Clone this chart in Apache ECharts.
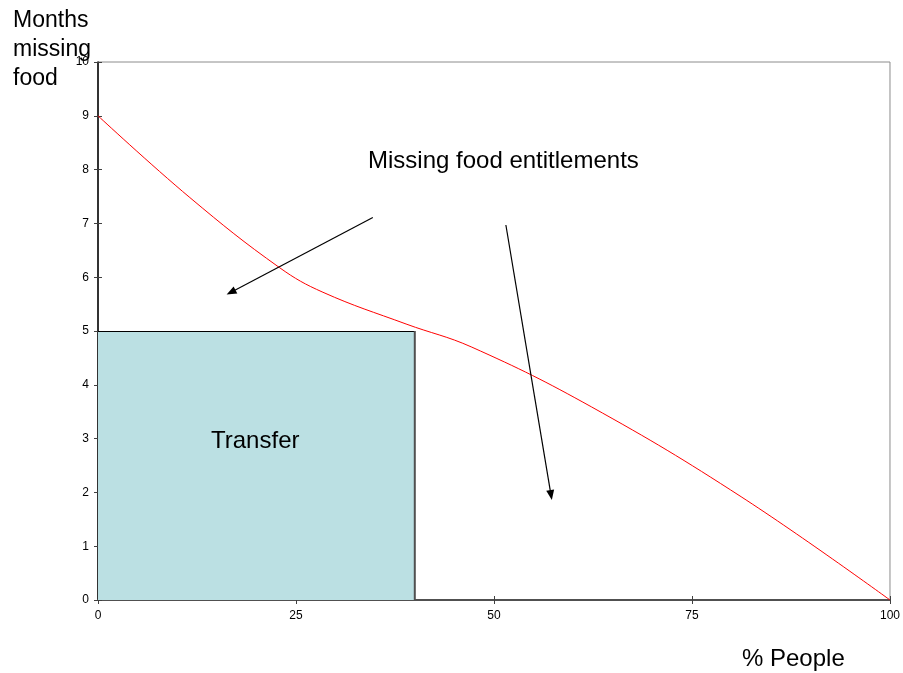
<!DOCTYPE html>
<html>
<head>
<meta charset="utf-8">
<script src="https://cdn.jsdelivr.net/npm/echarts@6/dist/echarts.min.js"></script>
<style>
  html, body { margin: 0; padding: 0; background: #fff; }
  #chart { width: 903px; height: 673px; }
</style>
</head>
<body>
<div id="chart"></div>
<script>
// Share of people (%) and months of missing food along the curve
const peoplePct     = [0, 11.6, 22.9, 28.4, 38.9, 47.2, 62.3, 81.2, 100];
const monthsMissing = [9, 7.48, 6.18, 5.72, 5.13, 4.70, 3.59, 1.92, 0];

// Transfer block: covers people from 0% to 40%, up to 5 months
const transferFrom = [0];
const transferTo = [40];
const transferMonths = [5];

// Annotation arrows in data units
const arrowStarts = [[34.7, 7.11], [51.5, 6.97]];
const arrowEnds   = [[16.8, 5.72], [57.2, 1.95]];

const xTicks = [0, 25, 50, 75, 100];
const yTicks = [0, 1, 2, 3, 4, 5, 6, 7, 8, 9, 10];

const FONT = '"Liberation Sans", Arial, sans-serif';

const curve = peoplePct.map((x, i) => [x, monthsMissing[i]]);
const blocks = transferFrom.map((x0, i) => [x0, transferTo[i], transferMonths[i]]);

const chart = echarts.init(document.getElementById('chart'), null, { renderer: 'canvas' });

const commonX = {
  type: 'value', min: xTicks[0], max: xTicks[xTicks.length - 1], interval: 25
};
const commonY = {
  type: 'value', min: yTicks[0], max: yTicks[yTicks.length - 1], interval: 1
};

chart.setOption({
  animation: false,
  backgroundColor: '#ffffff',
  grid: {
    left: 98, top: 62, width: 794, height: 538,
    show: true, borderColor: '#8c8c8c', borderWidth: 1, backgroundColor: 'transparent'
  },
  xAxis: [
    Object.assign({}, commonX, {
      position: 'bottom',
      axisLine: { show: true, onZero: false, lineStyle: { color: '#505050', width: 2 } },
      axisTick: { show: true, length: 4, lineStyle: { color: '#404040', width: 1 } },
      axisLabel: { color: '#000', fontFamily: FONT, fontSize: 12, margin: 10 },
      splitLine: { show: false }
    }),
    Object.assign({}, commonX, {
      position: 'bottom',
      axisLine: { show: false },
      axisTick: { show: true, inside: true, length: 4, lineStyle: { color: '#404040', width: 1 } },
      axisLabel: { show: false },
      splitLine: { show: false }
    })
  ],
  yAxis: [
    Object.assign({}, commonY, {
      position: 'left',
      axisLine: { show: true, onZero: false, lineStyle: { color: '#000', width: 1.5 } },
      axisTick: { show: true, length: 4, lineStyle: { color: '#404040', width: 1 } },
      axisLabel: { color: '#000', fontFamily: FONT, fontSize: 12, margin: 9 },
      splitLine: { show: false }
    }),
    Object.assign({}, commonY, {
      position: 'left',
      axisLine: { show: false },
      axisTick: { show: true, inside: true, length: 4, lineStyle: { color: '#404040', width: 1 } },
      axisLabel: { show: false },
      splitLine: { show: false }
    })
  ],
  series: [
    {
      name: 'Transfer',
      type: 'custom',
      xAxisIndex: 0, yAxisIndex: 0,
      z: 2,
      data: blocks,
      renderItem: function (params, api) {
        const tl = api.coord([api.value(0), api.value(2)]);
        const br = api.coord([api.value(1), 0]);
        return {
          type: 'group',
          children: [
            {
              type: 'rect',
              shape: { x: tl[0], y: tl[1], width: br[0] - tl[0], height: br[1] - tl[1] },
              style: { fill: '#bbe0e3' }
            },
            {
              type: 'line',
              shape: { x1: tl[0], y1: tl[1] + 0.5, x2: br[0], y2: tl[1] + 0.5 },
              style: { stroke: '#000', lineWidth: 1.2 }
            },
            {
              type: 'line',
              shape: { x1: br[0], y1: tl[1], x2: br[0], y2: br[1] },
              style: { stroke: '#505050', lineWidth: 2 }
            },
            {
              type: 'text',
              style: {
                text: 'Transfer', x: 211, y: 441,
                fill: '#000', font: '24px ' + FONT,
                textAlign: 'left', textVerticalAlign: 'middle'
              }
            }
          ]
        };
      }
    },
    {
      name: 'Months missing food',
      type: 'line',
      xAxisIndex: 0, yAxisIndex: 0,
      z: 3,
      data: curve,
      smooth: 0.4,
      showSymbol: false,
      symbol: 'none',
      lineStyle: { color: '#ff0000', width: 1 },
      markLine: {
        silent: true,
        symbol: ['none', 'triangle'],
        symbolSize: [8, 10],
        label: { show: false },
        lineStyle: { color: '#000', width: 1.2, type: 'solid' },
        data: arrowStarts.map((s, i) => [
          { coord: s, symbol: 'none' },
          { coord: arrowEnds[i], symbol: 'triangle' }
        ])
      }
    }
  ],
  graphic: [
    {
      type: 'text', left: 13, top: 6, z: 10,
      style: {
        text: 'Months\nmissing\nfood', fill: '#000',
        font: '23px ' + FONT, lineHeight: 29
      }
    },
    {
      type: 'text', left: 368, top: 149, z: 10,
      style: { text: 'Missing food entitlements', fill: '#000', font: '24px ' + FONT }
    },
    {
      type: 'text', left: 742, top: 647, z: 10,
      style: { text: '% People', fill: '#000', font: '24px ' + FONT }
    }
  ]
});
</script>
</body>
</html>
